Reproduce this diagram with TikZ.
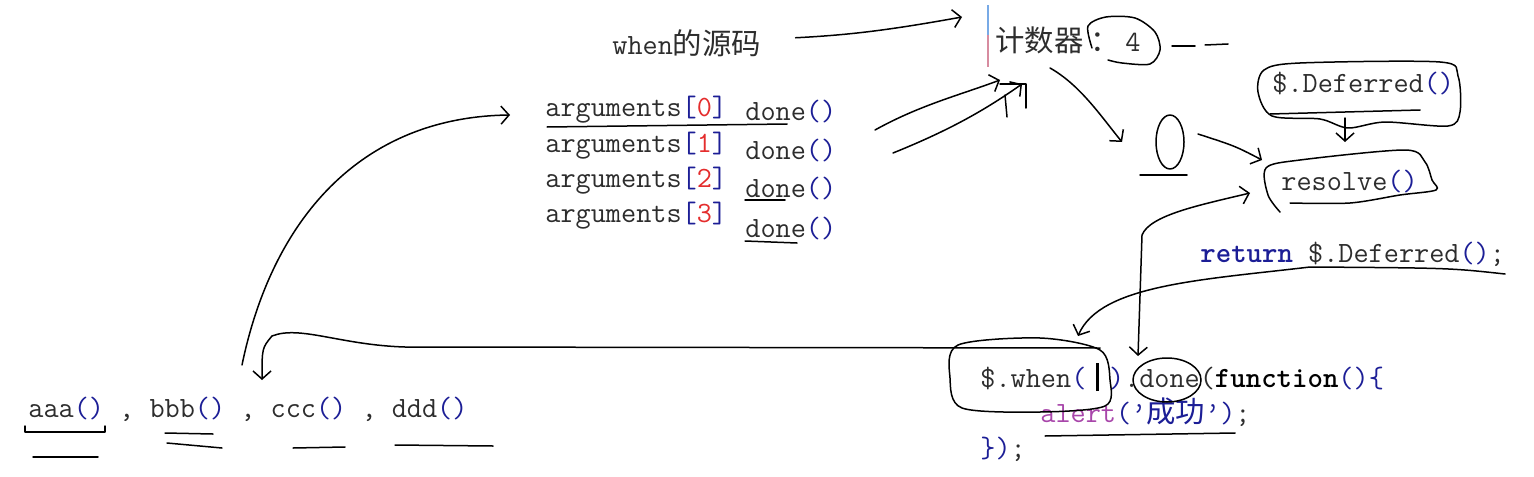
\documentclass[tikz,border=0pt]{standalone}
\usepackage{fontspec}
\newfontfamily\cjk{Noto Sans CJK SC}
\usepackage{xcolor}
\usetikzlibrary{arrows.meta,positioning,calc}

\definecolor{codeblue}{RGB}{28,30,150}
\definecolor{codered}{RGB}{228,45,45}
\definecolor{codepurple}{RGB}{168,70,170}
\definecolor{codegray}{RGB}{45,45,45}
\definecolor{caretblue}{RGB}{120,170,230}
\definecolor{caretpink}{RGB}{215,140,160}
\newcommand{\pp}{\textcolor{codeblue}{()}}

\begin{document}
\begin{tikzpicture}[
    x=0.5pt, y=-0.5pt,
    txt/.style={anchor=base west, inner sep=0pt, text=codegray, font=\fontsize{14.7}{17}\selectfont\ttfamily},
    hand/.style={line width=0.75pt, line cap=round, line join=round},
    arr/.style={hand, -{Straight Barb[length=4pt,width=9pt]}},
    twoway/.style={hand, {Straight Barb[length=4pt,width=9pt]}-{Straight Barb[length=4pt,width=9pt]}}
]
    \useasboundingbox (0,0) rectangle (1534,476);

    % code text
    \node [txt] (src) at (612,55) {when{\cjk 的源码}};
    \node [txt] (cnt) at (995,52) {{\cjk 计数器 ：}};
    \node [txt] (num) at (1125,52) {4};
    \foreach \i/\y in {0/117,1/152,2/187,3/222}
        \node [txt] (arg\i) at (545,\y) {arguments\textcolor{codeblue}{[}\textcolor{codered}{\i}\textcolor{codeblue}{]}};
    \foreach \i/\y in {0/120,1/159,2/197,3/237}
        \node [txt] (done\i) at (745,\y) {done\pp};
    \node [txt] (dfd) at (1272,92) {\$.Deferred\pp};
    \node [txt] (rsv) at (1281,190) {resolve\pp};
    \node [txt] (ret) at (1200,262) {\textcolor{codeblue}{\bfseries return} \$.Deferred\pp;};
    \node [txt] (when) at (980,387) {\$.when\textcolor{codeblue}{(}\hspace{5pt}\textcolor{black}{\rule[-2pt]{1.3pt}{14pt}}\hspace{5pt}\textcolor{codeblue}{)}.done(\textbf{\textcolor{black}{function}}\pp\textcolor{codeblue}{\{}};
    \node [txt] (alert) at (1040,422) {\textcolor{codepurple}{alert}\textcolor{codeblue}{(’{\cjk 成功}’)};};
    \node [txt] (close) at (980,457) {\textcolor{codeblue}{\})};};
    \node [txt] (calls) at (28,417) {aaa\pp{} , bbb\pp{} , ccc\pp{} , ddd\pp};

    % caret and hand-drawn marks
    \coordinate (caret) at (988,5);
    \coordinate (zero) at (1170,142);
    \draw [caretblue, line width=1pt] (caret) -- ++(0,30);
    \draw [caretpink, line width=1pt] ([yshift=-15pt]caret) -- ++(0,32);

    \draw [arr] ([xshift=17pt,yshift=3pt]src.east) .. controls (850,35) and (890,30) .. ([xshift=-13pt,yshift=-6pt]caret);
    \draw [arr] (875,130) .. controls (920,105) and (960,95) .. (1000,80);
    \draw [arr] (893,153) .. controls (950,130) and (985,110) .. (1022,84);
    \draw [hand] (1000,84) -- (1026,84) -- (1026,108);
    \draw [hand] (1005,95) -- (1007,117);

    \draw [hand] plot [smooth] coordinates {(1092,48) (1088,26) (1106,17) (1135,18) (1155,32) (1160,50) (1150,64) (1122,63) (1108,60)};
    \draw [hand] (1172,46) -- (1195,46);
    \draw [hand] (1205,45) -- (1228,44);

    \draw [arr] (1050,68) .. controls (1080,85) and (1100,115) .. ([xshift=-24pt]zero);
    \draw [hand] (zero) ellipse [x radius=7pt, y radius=13.5pt];
    \draw [hand] (1140,175) -- (1187,175);
    \draw [arr] ([xshift=14pt,yshift=4pt]zero) .. controls (1235,146) .. (1262,160);

    \draw [hand] plot [smooth cycle] coordinates {(1258,92) (1264,70) (1300,63) (1440,62) (1458,76) (1460,112) (1448,126) (1385,122) (1348,128) (1320,119) (1272,116)};
    \draw [hand] (1270,114) -- (1420,110);
    \draw [arr] (1345,118) -- (1345,142);
    \draw [hand] plot [smooth] coordinates {(1280,212) (1268,195) (1266,168) (1300,160) (1405,150) (1425,162) (1432,180) (1436,190) (1400,195) (1350,203) (1290,203)};

    \draw [twoway] (1250,193) .. controls (1200,205) and (1150,215) .. (1142,235) -- (1138,356);
    \draw [arr] (1505,274) .. controls (1450,268) .. (1310,267) .. controls (1200,280) and (1100,285) .. (1078,336);

    \draw [hand] plot [smooth cycle] coordinates {(958,345) (1040,338) (1100,350) (1110,380) (1105,406) (1040,412) (962,408) (950,378)};
    \draw [hand] (1167,380) ellipse [x radius=17pt, y radius=11pt];
    \draw [arr] (1100,348) -- (405,347) .. controls (340,345) and (300,325) .. (272,336) .. controls (262,348) .. (262,380);
    \draw [arr] (242,365) .. controls (272,220) and (360,117) .. (510,115);

    % underlines
    \draw [hand] (547,127) -- (787,124);
    \draw [hand] (745,200) -- (785,200);
    \draw [hand] (745,241) -- (797,243);
    \draw [hand] (25,426) -- (25,432) -- (105,432) -- (105,426);
    \draw [hand] (33,457) -- (98,457);
    \draw [hand] (165,433) -- (213,434);
    \draw [hand] (167,443) -- (222,448);
    \draw [hand] (293,448) -- (345,447);
    \draw [hand] (395,445) -- (493,446);
    \draw [hand] (1045,436) -- (1235,433);
\end{tikzpicture}
\end{document}
